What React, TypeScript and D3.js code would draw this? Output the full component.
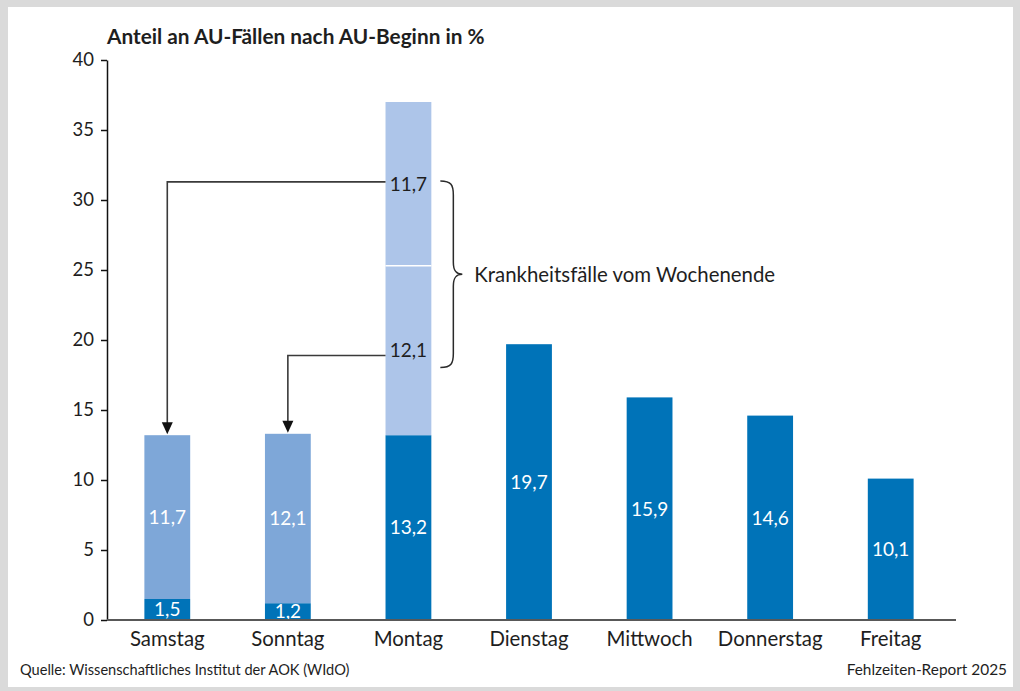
import * as d3 from "d3";
import { useEffect, useRef } from "react";

// Anteil an AU-Fällen nach AU-Beginn in %
const days = ["Samstag", "Sonntag", "Montag", "Dienstag", "Mittwoch", "Donnerstag", "Freitag"];
const sameDay = [1.5, 1.2, 13.2, 19.7, 15.9, 14.6, 10.1];
const weekendReported = [11.7, 12.1, 0, 0, 0, 0, 0];
const mondayFromSunday = [0, 0, 12.1, 0, 0, 0, 0];
const mondayFromSaturday = [0, 0, 11.7, 0, 0, 0, 0];
const yTicks = [0, 5, 10, 15, 20, 25, 30, 35, 40];

const title = "Anteil an AU-Fällen nach AU-Beginn in %";
const braceLabel = "Krankheitsfälle vom Wochenende";
const source = "Quelle: Wissenschaftliches Institut der AOK (WIdO)";
const report = "Fehlzeiten-Report 2025";

const fmt = (v: number) => v.toFixed(1).replace(".", ",");

export default function App() {
  const ref = useRef<SVGSVGElement>(null);
  const width = 1020;
  const height = 691;

  useEffect(() => {
    const svg = d3.select(ref.current);
    svg.selectAll("*").remove();
    const font = "Lato, 'Open Sans', sans-serif";
    const ink = "#1e1e1e";

    // frame
    svg.append("rect").attr("width", width).attr("height", height).attr("fill", "#dadada");
    svg.append("rect").attr("x", 8).attr("y", 7).attr("width", 1005).attr("height", 680).attr("fill", "#fff");

    const x = d3.scaleBand<string>().domain(days).range([107, 951]).paddingInner(0.62).paddingOuter(0.31);
    const y = d3.scaleLinear().domain([0, 40]).range([620, 60]);

    const rows = days.map((d, i) => ({
      day: d,
      base: sameDay[i],
      weekend: weekendReported[i],
      fromSun: mondayFromSunday[i],
      fromSat: mondayFromSaturday[i],
    }));
    const keys = ["base", "weekend", "fromSun", "fromSat"];
    const colors: Record<string, string> = {
      base: "#0073b8",
      weekend: "#7ea7d8",
      fromSun: "#adc5e9",
      fromSat: "#adc5e9",
    };
    const textColors: Record<string, string> = {
      base: "#fff",
      weekend: "#fff",
      fromSun: ink,
      fromSat: ink,
    };
    const series = d3.stack<any>().keys(keys)(rows);

    series.forEach((s) => {
      const g = svg.append("g");
      s.forEach((seg) => {
        const v = seg[1] - seg[0];
        if (v <= 0) return;
        const day = seg.data.day;
        g.append("rect")
          .attr("x", x(day)!)
          .attr("width", x.bandwidth())
          .attr("y", y(seg[1]))
          .attr("height", y(seg[0]) - y(seg[1]))
          .attr("fill", colors[s.key]);
        g.append("text")
          .attr("x", x(day)! + x.bandwidth() / 2)
          .attr("y", y((seg[0] + seg[1]) / 2))
          .attr("dy", "0.36em")
          .attr("text-anchor", "middle")
          .attr("font-family", font)
          .attr("font-size", 19)
          .attr("fill", textColors[s.key])
          .text(fmt(v));
      });
    });

    // white separator in Montag bar
    const mon = "Montag";
    const monIdx = days.indexOf(mon);
    const sepY = y(sameDay[monIdx] + mondayFromSunday[monIdx]);
    svg.append("line")
      .attr("x1", x(mon)!)
      .attr("x2", x(mon)! + x.bandwidth())
      .attr("y1", sepY)
      .attr("y2", sepY)
      .attr("stroke", "#fff")
      .attr("stroke-width", 1.5);

    // connectors
    const connect = (fromY: number, target: string) => {
      const ti = days.indexOf(target);
      const tx = x(target)! + x.bandwidth() / 2;
      const top = y(sameDay[ti] + weekendReported[ti]) - 1;
      svg.append("path")
        .attr("d", `M${x(mon)!},${fromY}H${tx}V${top - 10}`)
        .attr("fill", "none")
        .attr("stroke", "#3a3a3a")
        .attr("stroke-width", 1.6);
      svg.append("path")
        .attr("d", `M${tx - 5.5},${top - 12}L${tx + 5.5},${top - 12}L${tx},${top}Z`)
        .attr("fill", "#111");
    };
    const sunMid = y(sameDay[monIdx] + mondayFromSunday[monIdx] / 2);
    const satMid = y(sameDay[monIdx] + mondayFromSunday[monIdx] + mondayFromSaturday[monIdx] / 2);
    connect(satMid - 2, "Samstag");
    connect(sunMid + 5, "Sonntag");

    // brace
    const bx = x(mon)! + x.bandwidth() + 9;
    const bTop = satMid - 3;
    const bBot = sunMid + 17;
    const bMid = (bTop + bBot) / 2;
    const bIn = bx + 13;
    const bTip = bIn + 9;
    svg.append("path")
      .attr(
        "d",
        `M${bx},${bTop}C${bIn - 2},${bTop} ${bIn},${bTop + 4} ${bIn},${bTop + 14}` +
          `V${bMid - 12}C${bIn},${bMid - 3} ${bIn + 3},${bMid} ${bTip},${bMid}` +
          `C${bIn + 3},${bMid} ${bIn},${bMid + 3} ${bIn},${bMid + 12}` +
          `V${bBot - 14}C${bIn},${bBot - 4} ${bIn - 2},${bBot} ${bx},${bBot}`
      )
      .attr("fill", "none")
      .attr("stroke", "#2a2a2a")
      .attr("stroke-width", 1.5);
    svg.append("text")
      .attr("x", bTip + 12)
      .attr("y", bMid)
      .attr("dy", "0.36em")
      .attr("font-family", font)
      .attr("font-size", 20.4)
      .attr("fill", ink)
      .text(braceLabel);

    // y axis
    const yAxis = svg.append("g")
      .attr("transform", "translate(107,0)")
      .call(d3.axisLeft(y).tickValues(yTicks).tickSize(6).tickSizeOuter(0).tickPadding(7));
    yAxis.selectAll("path,line").attr("stroke", "#111").attr("stroke-width", 1.5);
    yAxis.selectAll("text")
      .attr("font-family", font)
      .attr("font-size", 18.5)
      .attr("fill", ink);

    // x axis
    svg.append("line")
      .attr("x1", 107)
      .attr("x2", 956)
      .attr("y1", y(0))
      .attr("y2", y(0))
      .attr("stroke", "#585858")
      .attr("stroke-width", 2);
    svg.append("g")
      .selectAll("text")
      .data(days)
      .join("text")
      .attr("x", (d) => x(d)! + x.bandwidth() / 2)
      .attr("y", 646)
      .attr("text-anchor", "middle")
      .attr("font-family", font)
      .attr("font-size", 20.4)
      .attr("fill", ink)
      .text((d) => d);

    // title and footer
    svg.append("text")
      .attr("x", 107)
      .attr("y", 44)
      .attr("font-family", font)
      .attr("font-weight", "bold")
      .attr("font-size", 20.8)
      .attr("fill", ink)
      .text(title);
    svg.append("text")
      .attr("x", 20)
      .attr("y", 675)
      .attr("font-family", font)
      .attr("font-size", 14.6)
      .attr("fill", ink)
      .text(source);
    svg.append("text")
      .attr("x", 1007)
      .attr("y", 675)
      .attr("text-anchor", "end")
      .attr("font-family", font)
      .attr("font-size", 15.4)
      .attr("fill", ink)
      .text(report);
  }, []);

  return (
    <svg
      ref={ref}
      width={width}
      height={height}
      style={{ position: "absolute", left: 0, top: 0 }}
    />
  );
}
